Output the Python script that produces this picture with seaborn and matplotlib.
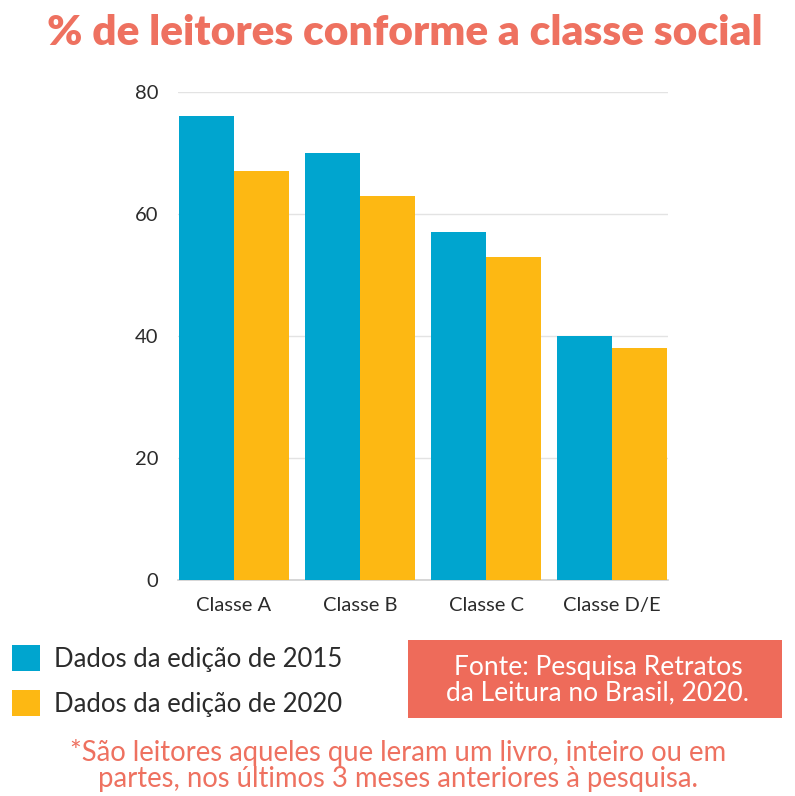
import matplotlib
matplotlib.use("Agg")
import matplotlib.pyplot as plt
import seaborn as sns
import pandas as pd
from matplotlib.patches import Patch, FancyBboxPatch

categories = ["Classe A", "Classe B", "Classe C", "Classe D/E"]
series_names = ["Dados da edição de 2015", "Dados da edição de 2020"]
values_2015 = [76, 70, 57, 40]
values_2020 = [67, 63, 53, 38]
y_ticks = [0, 20, 40, 60, 80]

colors = ["#00A5CF", "#FDB813"]
coral = "#EE7160"
box_color = "#EE6B5A"

df = pd.DataFrame({
    "classe": categories * 2,
    "edicao": [series_names[0]] * 4 + [series_names[1]] * 4,
    "valor": values_2015 + values_2020,
})

sns.set_theme(style="white")
plt.rcParams["font.family"] = ["Lato", "DejaVu Sans"]

fig = plt.figure(figsize=(7.95, 7.96), dpi=100)
ax = fig.add_axes([178 / 795, 216 / 796, 490 / 795, 488 / 796])

sns.barplot(data=df, x="classe", y="valor", hue="edicao", palette=colors,
            width=0.87, gap=0.0, saturation=1, ax=ax, legend=False,
            edgecolor="none", zorder=3)

ax.set_ylim(0, 80)
ax.set_xlim(-0.444, 3.444)
ax.set_yticks(y_ticks)
ax.set_yticklabels([str(t) for t in y_ticks], fontsize=14.5, color="#2b2b2b")
ax.set_xticklabels(categories, fontsize=14.5, color="#2b2b2b")
ax.tick_params(axis="y", length=0, pad=14)
ax.tick_params(axis="x", length=0, pad=12)
ax.set_xlabel("")
ax.set_ylabel("")
ax.grid(axis="y", color="#e3e3e3", linewidth=1, zorder=0)
for s in ["top", "right", "left"]:
    ax.spines[s].set_visible(False)
ax.spines["bottom"].set_color("#cfcfcf")
ax.spines["bottom"].set_linewidth(1.2)

fig.text(405 / 795, 1 - 33 / 796, "% de leitores conforme a classe social",
         ha="center", va="center", fontsize=30.5, fontweight="heavy", color=coral)

handles = [Patch(facecolor=c, edgecolor="none") for c in colors]
fig.legend(handles, series_names, loc="upper left",
           bbox_to_anchor=(12 / 795, 1 - 645 / 796), frameon=False,
           borderaxespad=0, borderpad=0,
           fontsize=18.5, handlelength=1.09, handleheight=1.17,
           handletextpad=0.55, labelspacing=0.72, labelcolor="#2b2b2b")

box = FancyBboxPatch((408 / 795, 1 - 718 / 796), 374 / 795, 78 / 796,
                     boxstyle="square,pad=0", transform=fig.transFigure,
                     facecolor=box_color, edgecolor="none")
fig.patches.append(box)
fig.text(598 / 795, 1 - 680 / 796,
         "Fonte: Pesquisa Retratos\nda Leitura no Brasil, 2020.",
         ha="center", va="center", fontsize=19, color="white",
         linespacing=1.05)

fig.text(398 / 795, 1 - 753 / 796,
         "*São leitores aqueles que leram um livro, inteiro ou em",
         ha="center", va="center", fontsize=19.8, color=coral)
fig.text(398 / 795, 1 - 779 / 796,
         "partes, nos últimos 3 meses anteriores à pesquisa.",
         ha="center", va="center", fontsize=19.8, color=coral)

fig.savefig("out.png", dpi=100, facecolor="white")
